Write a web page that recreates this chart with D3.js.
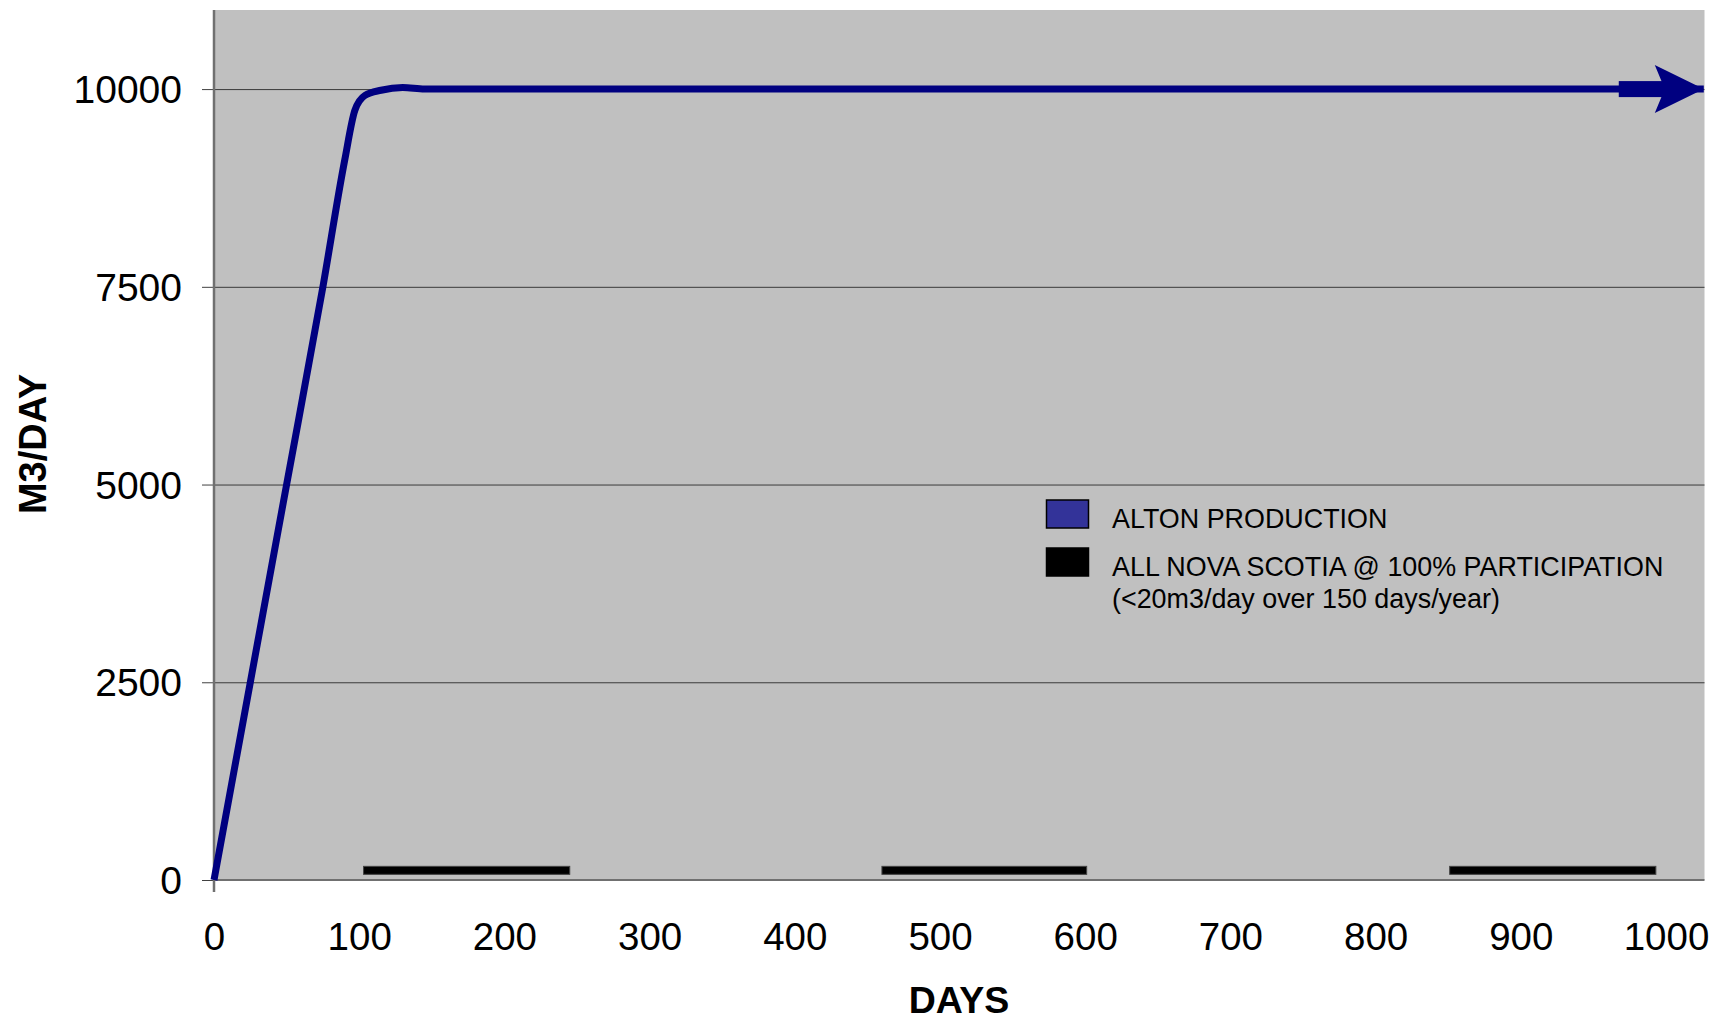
<body style="margin:0;background:#fff">
  <svg id="chart"></svg>
</body>
<script src="https://cdn.jsdelivr.net/npm/d3@7"></script>
<script>
/* global d3 */

// data
const days = [0, 25, 50, 75, 90, 97, 104, 115, 130, 145, 1026]
const production = [0, 2500, 5000, 7500, 9100, 9730, 9920, 9985, 10020, 10000, 10000]
const seasonStart = [103, 460, 851]
const seasonEnd = [245, 601, 993]
const seasonLevel = 122
const xTicks = [0, 100, 200, 300, 400, 500, 600, 700, 800, 900, 1000]
const yTicks = [0, 2500, 5000, 7500, 10000]
const legendLabels = ['ALTON PRODUCTION', 'ALL NOVA SCOTIA @ 100% PARTICIPATION', '(<20m3/day over 150 days/year)']

const W = 1725, H = 1021
const font = '"Liberation Sans", Arial, sans-serif'
const navy = '#000080'

const svg = d3.select('#chart').attr('width', W).attr('height', H)
  .style('display', 'block').style('font-family', font)

const plot = { left: 214, right: 1704.5, top: 10, bottom: 880 }

const x = d3.scaleLinear().domain([0, 1026.5]).range([plot.left, plot.right])
const y = d3.scaleLinear().domain([0, 11000]).range([plot.bottom, plot.top])

// plot background
svg.append('rect')
  .attr('x', plot.left).attr('y', plot.top)
  .attr('width', plot.right - plot.left).attr('height', plot.bottom - plot.top)
  .attr('fill', '#c0c0c0')

// gridlines + y ticks
const yAxis = d3.axisLeft(y)
  .tickValues(yTicks)
  .tickSize(12)
  .tickPadding(20)
  .tickFormat(d3.format('d'))

const gy = svg.append('g')
  .attr('transform', `translate(${plot.left},0)`)
  .call(yAxis)
gy.select('.domain').remove()
gy.selectAll('.tick line').attr('stroke', '#404040').attr('stroke-width', 1)
gy.selectAll('.tick text')
  .attr('font-size', 39).attr('font-family', font).attr('fill', '#000')
  .attr('dy', '0.35em')
gy.selectAll('.tick').filter(d => d > 0)
  .append('line')
  .attr('x1', 0).attr('x2', plot.right - plot.left)
  .attr('stroke', '#3a3a3a').attr('stroke-width', 1)

// x tick labels
const xAxis = d3.axisBottom(x)
  .tickValues(xTicks)
  .tickSize(0)
  .tickPadding(43)
  .tickFormat(d3.format('d'))

const gx = svg.append('g')
  .attr('transform', `translate(0,${plot.bottom})`)
  .call(xAxis)
gx.select('.domain').remove()
gx.selectAll('.tick text')
  .attr('font-size', 38.5).attr('font-family', font).attr('fill', '#000')

// axis lines
svg.append('line')
  .attr('x1', plot.left).attr('x2', plot.right)
  .attr('y1', plot.bottom).attr('y2', plot.bottom)
  .attr('stroke', '#707070').attr('stroke-width', 2)
svg.append('line')
  .attr('x1', plot.left).attr('x2', plot.left)
  .attr('y1', plot.top).attr('y2', plot.bottom + 12)
  .attr('stroke', '#707070').attr('stroke-width', 2.5)

// seasonal bars (all Nova Scotia)
const seasons = seasonStart.map((s, i) => ({ start: s, end: seasonEnd[i] }))
svg.append('g').selectAll('rect')
  .data(seasons)
  .join('rect')
  .attr('x', d => x(d.start))
  .attr('width', d => x(d.end) - x(d.start))
  .attr('y', y(seasonLevel) - 4)
  .attr('height', 8)
  .attr('fill', '#000')
  .attr('stroke', '#444')
  .attr('stroke-width', 1)

// production line
const pts = days.map((d, i) => [d, production[i]])
const line = d3.line()
  .x(d => x(d[0]))
  .y(d => y(d[1]))
  .curve(d3.curveMonotoneX)

svg.append('path')
  .datum(pts)
  .attr('d', line)
  .attr('fill', 'none')
  .attr('stroke', navy)
  .attr('stroke-width', 7)
  .attr('stroke-linejoin', 'round')

// arrow at the end of the line
const tip = pts[pts.length - 1]
const tx = x(tip[0]), ty = y(tip[1])
svg.append('rect')
  .attr('x', tx - 85).attr('y', ty - 8)
  .attr('width', 47).attr('height', 16)
  .attr('fill', navy)
svg.append('path')
  .attr('d', `M${tx},${ty} L${tx - 49},${ty - 24} L${tx - 39},${ty} L${tx - 49},${ty + 24} Z`)
  .attr('fill', navy)

// axis titles
svg.append('text')
  .attr('transform', 'translate(46,444) rotate(-90)')
  .attr('text-anchor', 'middle')
  .attr('font-size', 38).attr('font-weight', 'bold')
  .text('M3/DAY')

svg.append('text')
  .attr('x', 959).attr('y', 1013)
  .attr('text-anchor', 'middle')
  .attr('font-size', 37.5).attr('font-weight', 'bold')
  .text('DAYS')

// legend
const lg = svg.append('g')
lg.append('rect')
  .attr('x', 1046.5).attr('y', 500).attr('width', 42).attr('height', 28)
  .attr('fill', '#333399').attr('stroke', '#000').attr('stroke-width', 1.5)
lg.append('rect')
  .attr('x', 1046.5).attr('y', 548).attr('width', 42).attr('height', 28)
  .attr('fill', '#000').attr('stroke', '#000').attr('stroke-width', 1.5)
lg.selectAll('text')
  .data(legendLabels)
  .join('text')
  .attr('x', 1112)
  .attr('y', (d, i) => [528, 576, 608][i])
  .attr('font-size', 26.9)
  .text(d => d)
</script>
